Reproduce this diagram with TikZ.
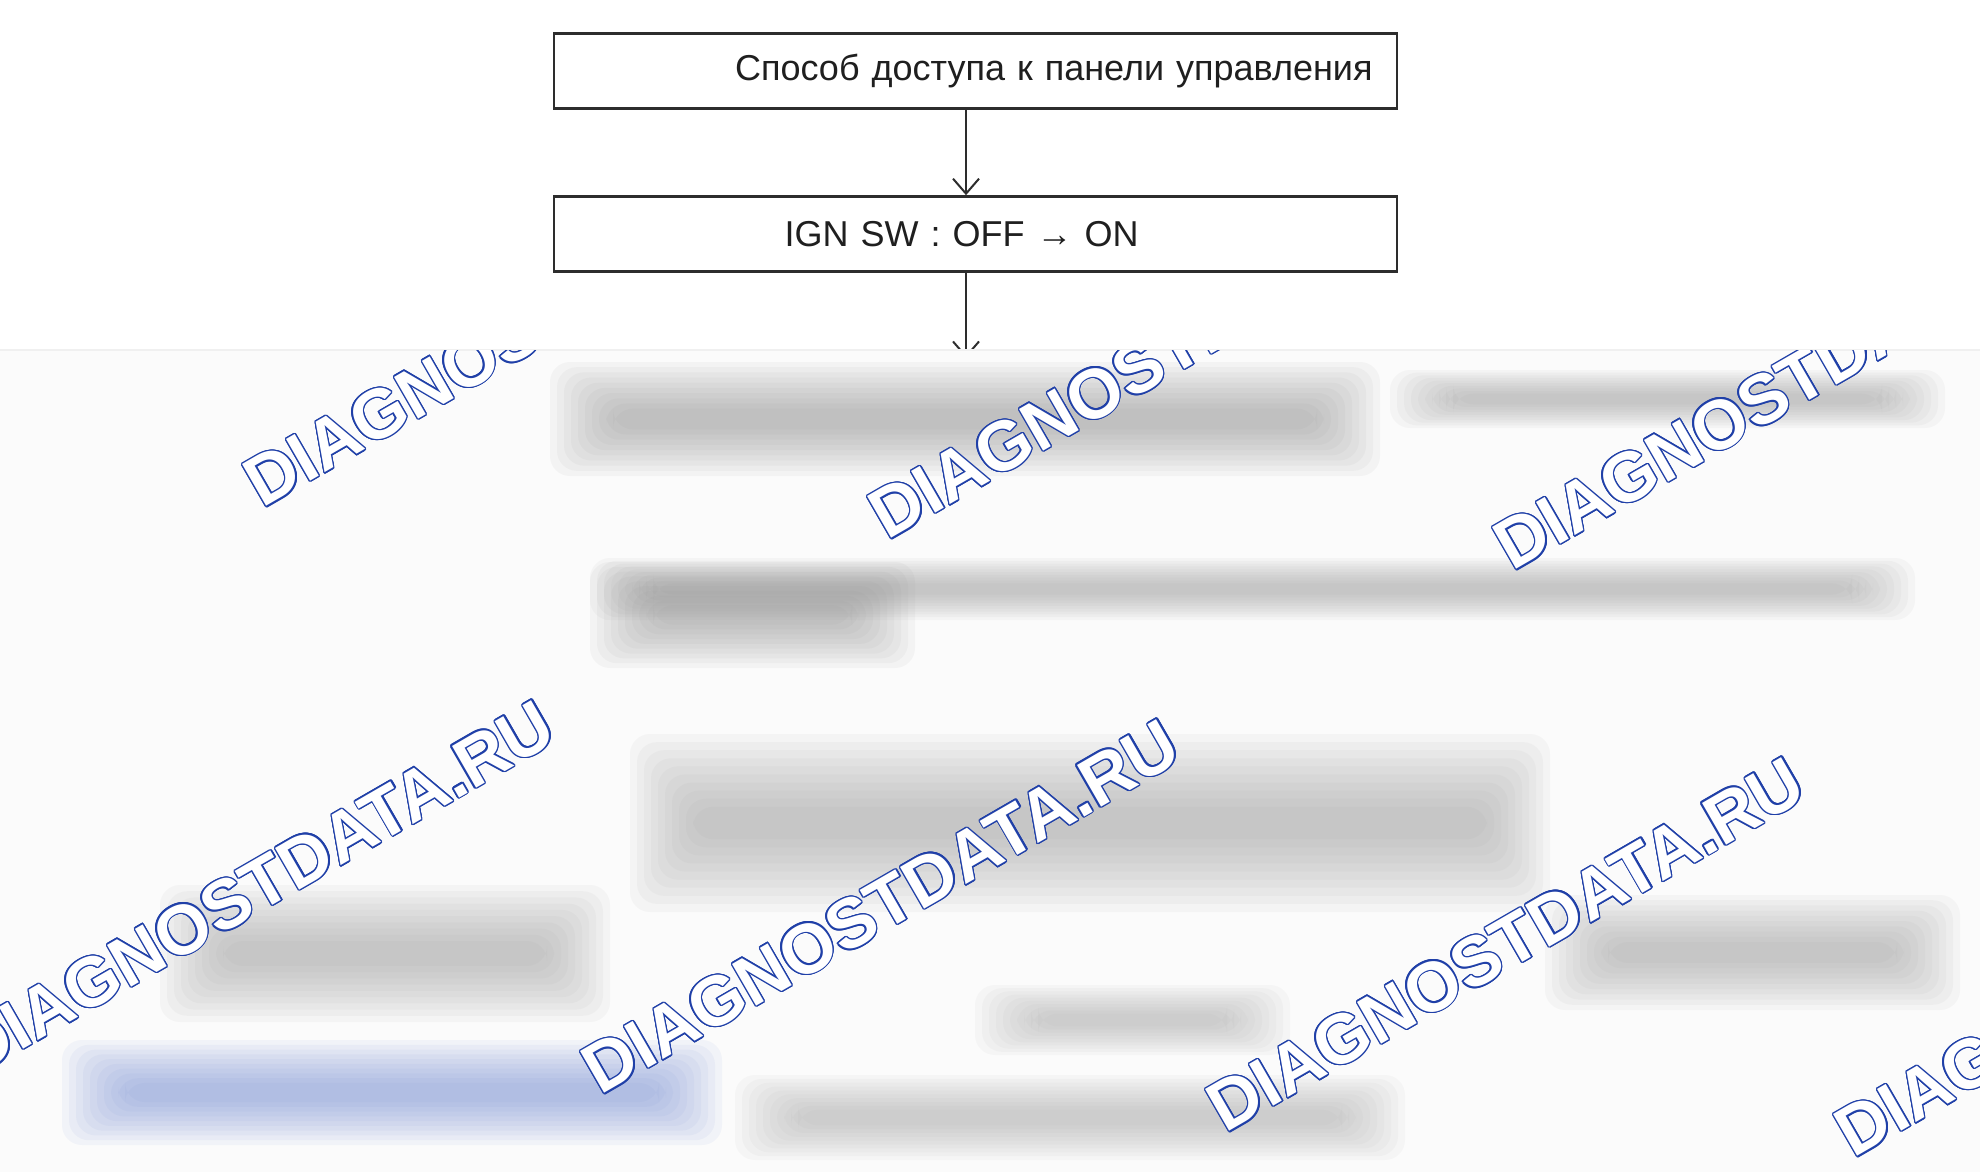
\documentclass[tikz,border=0pt]{standalone}
\usepackage{fontspec}
\setmainfont{Liberation Sans}
\usepackage[copies]{contour}
\usetikzlibrary{arrows.meta}

\definecolor{linegray}{RGB}{45,45,45}
\definecolor{wmblue}{RGB}{32,64,168}
\definecolor{blurblue}{RGB}{110,135,210}
\contourlength{0.7pt}

\tikzset{
  stepbox/.style={rectangle,draw=linegray,line width=1.3pt,fill=white,
    minimum width=421.5pt,minimum height=37.5pt,text=black!88,
    font=\fontsize{18}{21}\selectfont},
  flow/.style={draw=linegray,line width=1pt,-{Straight Barb[length=7.5pt,width=13pt]}},
  smear/.style={fill=#1,opacity=0.065,rounded corners=10pt},
  wmark/.style={rotate=30,inner sep=0pt,text=white,
    font=\fontsize{35}{40}\selectfont\bfseries},
}

% soft grey patch, corners (x1,y1) (x2,y2)
\newcommand{\smudge}[5]{%
  \foreach \k in {0,...,9}{%
    \pgfmathsetmacro\dy{\k*(#4-#2)/22}
    \fill[smear=#5] ({#1+\k*7},{#2+\dy}) rectangle ({#3-\k*7},{#4-\dy});}}

\begin{document}
\begin{tikzpicture}[x=0.5pt,y=-0.5pt]
  \fill[white] (0,0) rectangle (1980,1172);
  \useasboundingbox (0,0) rectangle (1980,1172);

  \coordinate (axis) at (966,0);
  \coordinate (next) at (966,358);

  \node (access) [stepbox,text width=397pt,align=right,inner xsep=12pt] at (975.5,71) {Способ доступа к панели управления};
  \node (ign) [stepbox,text width=397pt,align=center,inner xsep=12pt] at (975.5,234) {IGN SW : OFF → ON\hspace*{14pt}};

  \draw [flow] (access.south -| axis) -- (ign.north -| axis);
  \draw [flow] (ign.south -| axis) -- (next);

  % blurred lower part
  \fill[black!1.5] (0,350) rectangle (1980,1172);
  \draw[black!6,line width=0.8pt] (0,350) -- (1980,350);
  \smudge{550}{362}{1380}{476}{black!45}
  \smudge{1390}{370}{1945}{428}{black!40}
  \smudge{590}{558}{1915}{620}{black!40}
  \smudge{590}{562}{915}{668}{black!45}
  \smudge{630}{734}{1550}{912}{black!40}
  \smudge{160}{885}{610}{1022}{black!40}
  \smudge{1545}{895}{1960}{1010}{black!40}
  \smudge{975}{985}{1290}{1055}{black!35}
  \smudge{62}{1040}{722}{1145}{blurblue}
  \smudge{735}{1075}{1405}{1160}{black!35}

  \begin{scope}
    \clip (0,350) rectangle (1980,1172);
    \foreach \x/\y [count=\i] in {543/320,1168/352,1793/383,256/888,881/907,1506/945,2134/970}
      \node (wm\i) [wmark] at (\x,\y) {\contour{wmblue}{DIAGNOSTDATA.RU}};
  \end{scope}
\end{tikzpicture}
\end{document}
